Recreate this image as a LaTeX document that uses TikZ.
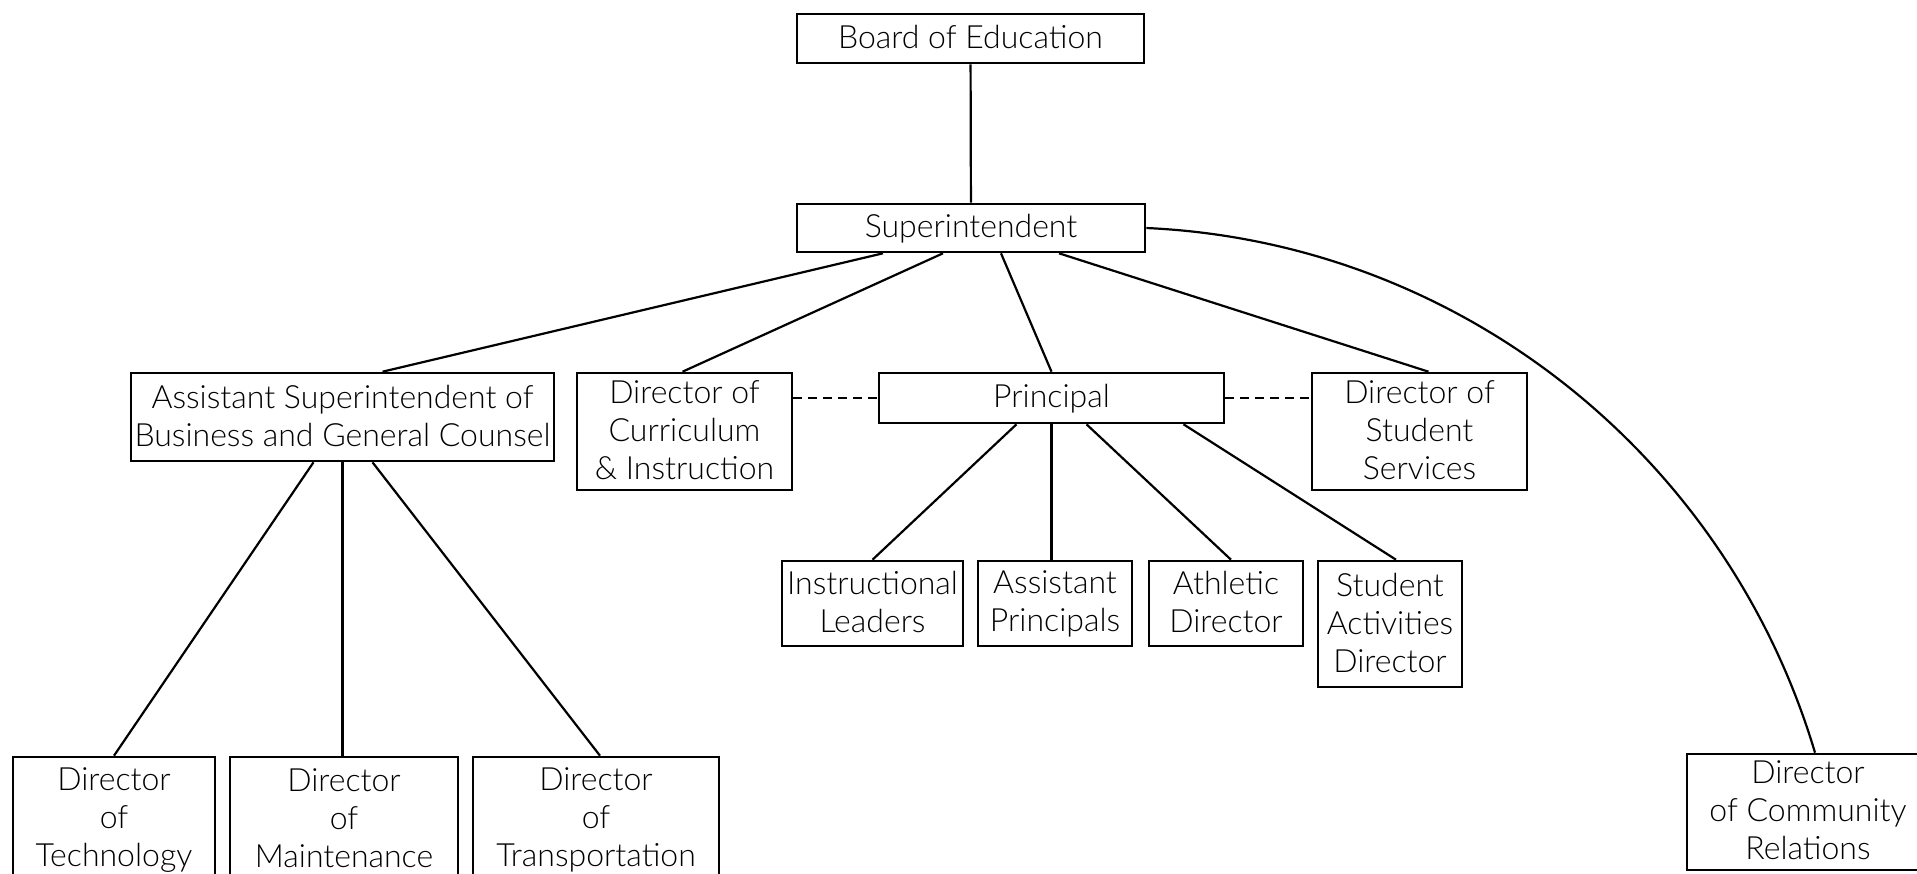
\documentclass[tikz,border=0pt]{standalone}
\usepackage{fontspec}
\setmainfont{Lato Light}
\usetikzlibrary{calc}
\newcommand{\capstrut}[1]{\rule{0pt}{#1}}
\newcommand{\descstrut}[1]{\rule[-#1]{0pt}{#1}}

\begin{document}
\begin{tikzpicture}[x=0.5pt,y=-0.5pt,
    box/.style={draw, line width=1.3pt, align=center, inner sep=0pt,
      font=\fontsize{16}{19}\selectfont},
    single/.style={box, execute at begin node=\capstrut{14.5pt}, execute at end node=\descstrut{5pt}},
    multi/.style={box, execute at begin node=\capstrut{18pt}, execute at end node=\descstrut{1.5pt}},
    link/.style={line width=1.1pt},
    peer/.style={line width=1.1pt, dash pattern=on 4.5pt off 3pt}]
  \useasboundingbox (0,0) rectangle (1917,873);
  % top
  \node[single, minimum width=173.5pt, minimum height=24.5pt] (board) at (970.5,38.5) {Board of Education};
  \node[single, minimum width=174pt, minimum height=24pt] (super) at (971,228) {Superintendent};
  % second row
  \node[multi, minimum width=211.5pt, minimum height=44pt] (asst) at (342.5,417) {Assistant Superintendent of\\Business and General Counsel};
  \node[multi, minimum width=107.5pt, minimum height=58.5pt] (curric) at (684.5,431.5) {Director of\\Curriculum\\\& Instruction};
  \node[single, minimum width=172.5pt, minimum height=25pt] (principal) at (1051.5,398) {Principal};
  \node[multi, minimum width=107.5pt, minimum height=58.5pt] (studserv) at (1419.5,431.5) {Director of\\Student\\Services};
  % under principal
  \node[multi, minimum width=90.5pt, minimum height=42.5pt] (instr) at (872.5,603.5) {Instructional\\Leaders};
  \node[multi, minimum width=77pt, minimum height=42.5pt] (asstprin) at (1055,603.5) {Assistant\\Principals};
  \node[multi, minimum width=77pt, minimum height=42.5pt] (athletic) at (1226,603.5) {Athletic\\Director};
  \node[multi, minimum width=72pt, minimum height=63pt] (studact) at (1390,624) {Student\\Activities\\Director};
  % bottom row
  \node[multi, minimum width=101pt, minimum height=63pt] (tech) at (114,820) {Director\\of\\Technology};
  \node[multi, minimum width=114pt, minimum height=63pt] (maint) at (344,820) {Director\\of\\Maintenance};
  \node[multi, minimum width=123pt, minimum height=63pt] (trans) at (596,820) {Director\\of\\Transportation};
  \node[multi, minimum width=121pt, minimum height=58pt] (comm) at (1808,812) {Director\\of Community\\Relations};
  % superintendent lines
  \draw[link] (board) -- (super);
  \draw[link] ($(super.south)+(-88,0)$) -- ($(asst.north)+(40,0)$);
  \draw[link] ($(super.south)+(-28,0)$) -- ($(curric.north)+(-2,0)$);
  \draw[link] ($(super.south)+(30,0)$) -- (principal.north);
  \draw[link] ($(super.south)+(88,0)$) -- ($(studserv.north)+(9,0)$);
  \draw[link] (super.east) .. controls (1458,242) and (1726,454) .. ($(comm.north)+(7,0)$);
  % assistant superintendent lines
  \draw[link] ($(asst.south)+(-29,0)$) -- (tech.north);
  \draw[link] (asst.south) -- (asst.south |- maint.north);
  \draw[link] ($(asst.south)+(30,0)$) -- ($(trans.north)+(4,0)$);
  % principal lines
  \draw[link] ($(principal.south)+(-35,0)$) -- (instr.north);
  \draw[link] (principal.south) -- (principal.south |- asstprin.north);
  \draw[link] ($(principal.south)+(35,0)$) -- ($(athletic.north)+(5,0)$);
  \draw[link] ($(principal.south)+(132,0)$) -- ($(studact.north)+(6,0)$);
  \draw[peer] (curric.east |- principal.west) -- (principal.west);
  \draw[peer] (principal.east) -- (principal.east -| studserv.west);
\end{tikzpicture}
\end{document}
